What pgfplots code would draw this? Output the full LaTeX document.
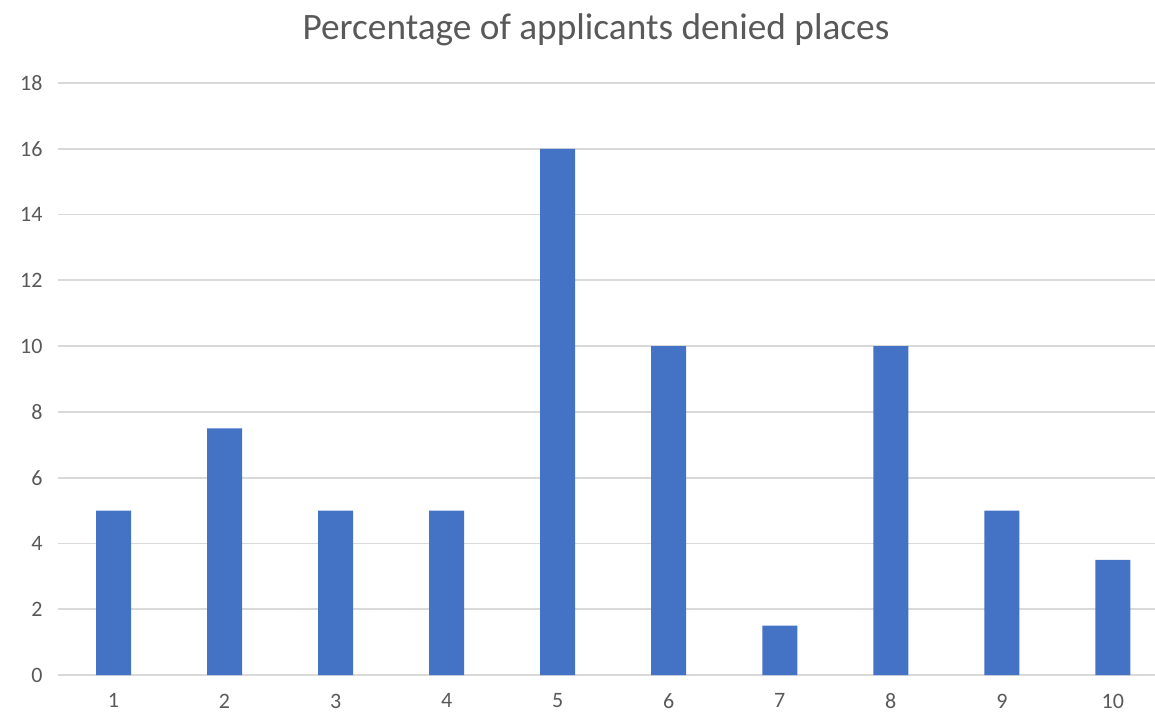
\documentclass[border=0pt]{standalone}
\usepackage{pgfplots}
\pgfplotsset{compat=1.18}
\usepackage{fontspec}
\setmainfont{Carlito}
\definecolor{barblue}{HTML}{4472C4}
\definecolor{gridgray}{HTML}{D9D9D9}
\definecolor{txtgray}{HTML}{595959}
\begin{document}
\begin{tikzpicture}[x=1pt,y=1pt]
\useasboundingbox (0,0) rectangle (1155,715);
\node[text=txtgray, font=\fontsize{37.3}{37.3}\selectfont] at (596,685) {Percentage of applicants denied places};
\begin{axis}[
  at={(58pt,40pt)}, anchor=south west,
  scale only axis, width=1097pt, height=592pt,
  xmin=0.5, xmax=10.38, ymin=0, ymax=18,
  xtick={1,2,3,4,5,6,7,8,9,10},
  ytick={0,2,4,6,8,10,12,14,16,18},
  axis line style={draw=none},
  tick style={draw=none},
  ymajorgrids, grid style={gridgray, line width=1.8pt},
  /pgf/number format/assume math mode=true,
  ticklabel style={text=txtgray, font=\fontsize{22}{22}\selectfont},
  yticklabel style={xshift=-12pt},
  xticklabel style={yshift=-11pt},
  ybar, bar width=35pt,
]
\addplot[fill=barblue, draw=none] coordinates {
(1,5) (2,7.5) (3,5) (4,5) (5,16) (6,10) (7,1.5) (8,10) (9,5) (10,3.5)};
\end{axis}
\end{tikzpicture}
\end{document}
